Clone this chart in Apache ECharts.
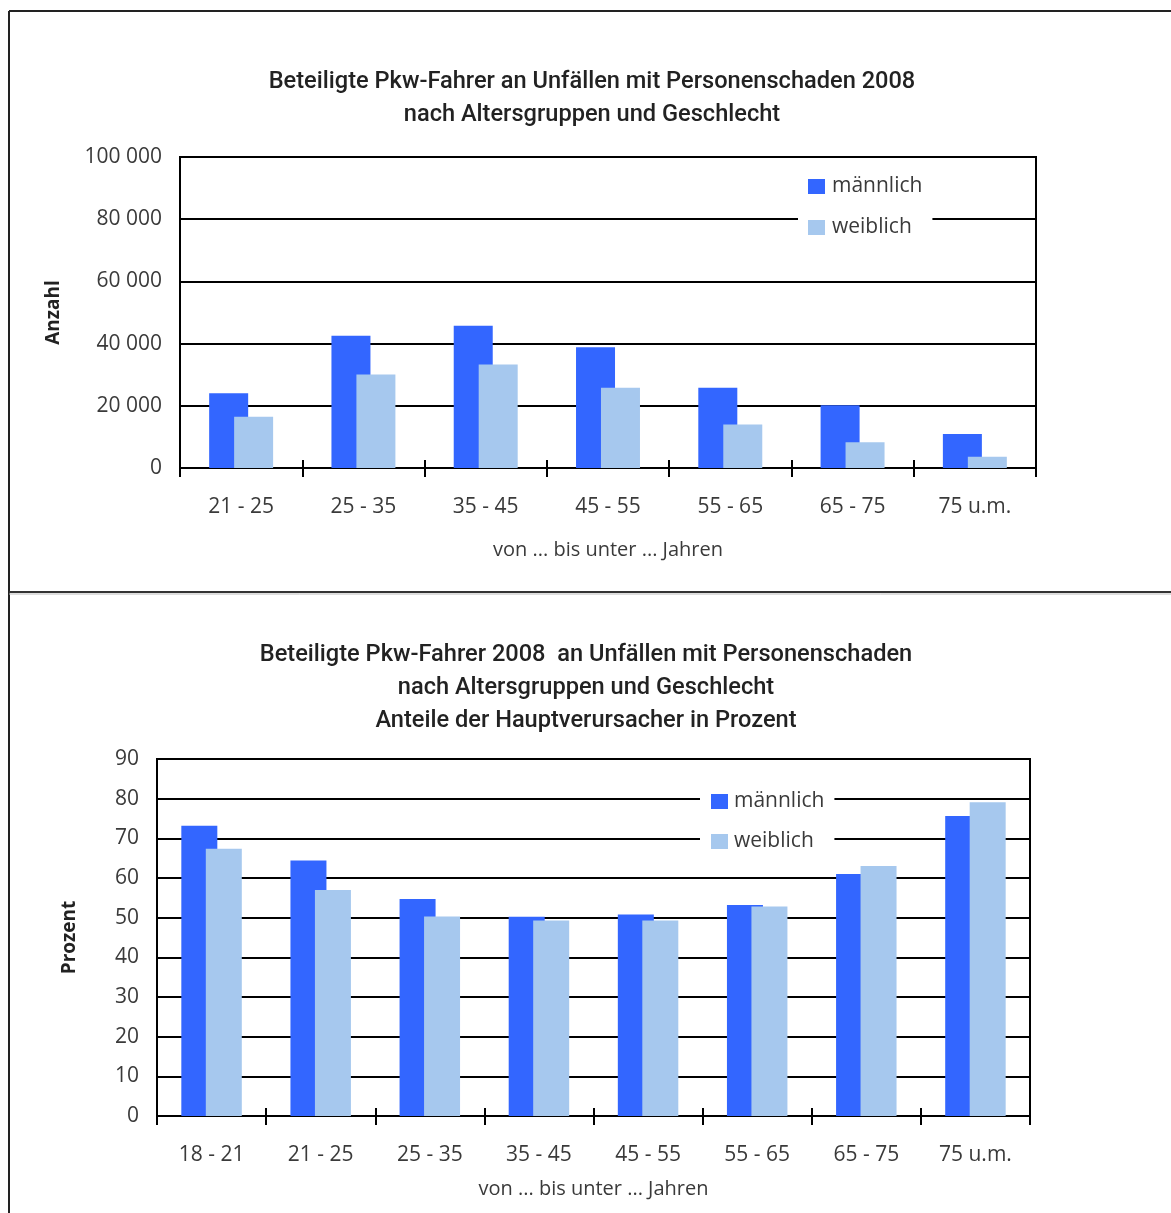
<!DOCTYPE html>
<html>
<head>
<meta charset="utf-8">
<script src="https://cdn.jsdelivr.net/npm/echarts@6/dist/echarts.min.js"></script>
<style>
html,body{margin:0;padding:0;background:#fff;}
#chart{width:1171px;height:1213px;}
</style>
</head>
<body>
<div id="chart"></div>
<script>
// ---- Data ----
const topCategories = ['21 - 25', '25 - 35', '35 - 45', '45 - 55', '55 - 65', '65 - 75', '75 u.m.'];
const topMale   = [24000, 42500, 45700, 38800, 25800, 20200, 10900];
const topFemale = [16500, 30100, 33300, 25800, 14000, 8300, 3600];

const bottomCategories = ['18 - 21', '21 - 25', '25 - 35', '35 - 45', '45 - 55', '55 - 65', '65 - 75', '75 u.m.'];
const bottomMale   = [73.2, 64.4, 54.7, 50.2, 50.8, 53.2, 61.0, 75.6];
const bottomFemale = [67.4, 57.0, 50.3, 49.3, 49.3, 52.8, 63.0, 79.1];

const seriesNames = ['männlich', 'weiblich'];
const topTitle = 'Beteiligte Pkw-Fahrer an Unfällen mit Personenschaden 2008\nnach Altersgruppen und Geschlecht';
const bottomTitle = 'Beteiligte Pkw-Fahrer 2008  an Unfällen mit Personenschaden\nnach Altersgruppen und Geschlecht\nAnteile der Hauptverursacher in Prozent';
const xName = 'von ... bis unter ... Jahren';
const topYName = 'Anzahl';
const bottomYName = 'Prozent';

// ---- Styles ----
const MALE = '#3366FF';
const FEMALE = '#A6C8EE';
const LABEL_FONT = "'Open Sans', 'Noto Sans', sans-serif";
const TITLE_FONT = "Roboto, 'Noto Sans', sans-serif";
const TXT = '#3a3a3a';

const chart = echarts.init(document.getElementById('chart'), null, {renderer: 'canvas'});

function thousands(v) {
  return String(v).replace(/\B(?=(\d{3})+(?!\d))/g, ' ');
}

function catAxis(gridIndex, data, main) {
  if (main) {
    return {
      type: 'category', gridIndex: gridIndex, data: data, position: 'bottom',
      boundaryGap: true,
      axisLine: {show: true, lineStyle: {color: '#000', width: 2}},
      axisTick: {show: true, inside: false, length: 9, lineStyle: {color: '#000', width: 2}},
      axisLabel: {color: TXT, fontFamily: LABEL_FONT, fontSize: 21, margin: 29},
      name: xName, nameLocation: 'middle', nameGap: gridIndex === 0 ? 72 : 63,
      nameTextStyle: {color: TXT, fontFamily: LABEL_FONT, fontSize: 20},
      splitLine: {show: false}
    };
  }
  return {
    type: 'category', gridIndex: gridIndex, data: data, position: 'bottom',
    boundaryGap: true,
    axisLine: {show: false},
    axisTick: {show: true, inside: true, length: 8, lineStyle: {color: '#000', width: 2}},
    axisLabel: {show: false},
    splitLine: {show: false}
  };
}

function valAxis(gridIndex, max, interval, name, nameGap, fmt) {
  return {
    type: 'value', gridIndex: gridIndex, min: 0, max: max, interval: interval,
    axisLine: {show: true, lineStyle: {color: '#000', width: 2}},
    axisTick: {show: false},
    axisLabel: {color: TXT, fontFamily: LABEL_FONT, fontSize: 21, margin: 18, formatter: fmt},
    splitLine: {show: true, lineStyle: {color: '#000', width: 2}},
    name: name, nameLocation: 'middle', nameGap: nameGap, nameRotate: 90,
    nameTextStyle: {color: '#222', fontFamily: LABEL_FONT, fontSize: 19, fontWeight: 'bold'}
  };
}

const option = {
  backgroundColor: '#fff',
  animation: false,
  title: [
    {
      text: topTitle, left: 587, top: 61, textAlign: 'center',
      textStyle: {fontFamily: TITLE_FONT, fontSize: 23.6, fontWeight: 500, color: '#222', lineHeight: 33}
    },
    {
      text: bottomTitle, left: 581, top: 634, textAlign: 'center',
      textStyle: {fontFamily: TITLE_FONT, fontSize: 23.6, fontWeight: 500, color: '#222', lineHeight: 33}
    }
  ],
  legend: [
    {
      data: seriesNames, orient: 'vertical', left: 798, top: 166,
      backgroundColor: '#fff', padding: [10, 10, 10, 10],
      icon: 'rect', itemWidth: 17, itemHeight: 15, itemGap: 20,
      textStyle: {color: TXT, fontFamily: LABEL_FONT, fontSize: 21, lineHeight: 20, padding: [0, 0, 0, 2]},
      selectedMode: false
    },
    {
      data: seriesNames, orient: 'vertical', left: 700, top: 781,
      backgroundColor: '#fff', padding: [10, 10, 10, 11],
      icon: 'rect', itemWidth: 17, itemHeight: 15, itemGap: 19,
      textStyle: {color: TXT, fontFamily: LABEL_FONT, fontSize: 21, lineHeight: 20, padding: [0, 0, 0, 1]},
      selectedMode: false
    }
  ],
  grid: [
    {left: 180, top: 157, width: 856, height: 311, show: true, borderColor: '#000', borderWidth: 2, backgroundColor: 'transparent'},
    {left: 157, top: 759, width: 873, height: 357, show: true, borderColor: '#000', borderWidth: 2, backgroundColor: 'transparent'}
  ],
  xAxis: [
    catAxis(0, topCategories, true),
    catAxis(0, topCategories, false),
    catAxis(1, bottomCategories, true),
    catAxis(1, bottomCategories, false)
  ],
  yAxis: [
    valAxis(0, 100000, 20000, topYName, 117, thousands),
    valAxis(1, 90, 10, bottomYName, 78, null)
  ],
  series: [
    {name: seriesNames[0], type: 'bar', xAxisIndex: 0, yAxisIndex: 0, data: topMale,
     itemStyle: {color: MALE}, barWidth: 39, barGap: '-36%'},
    {name: seriesNames[1], type: 'bar', xAxisIndex: 0, yAxisIndex: 0, data: topFemale,
     itemStyle: {color: FEMALE}, barWidth: 39, barGap: '-36%'},
    {name: seriesNames[0], type: 'bar', xAxisIndex: 2, yAxisIndex: 1, data: bottomMale,
     itemStyle: {color: MALE}, barWidth: 36, barGap: '-32%'},
    {name: seriesNames[1], type: 'bar', xAxisIndex: 2, yAxisIndex: 1, data: bottomFemale,
     itemStyle: {color: FEMALE}, barWidth: 36, barGap: '-32%'}
  ],
  graphic: [
    {type: 'line', shape: {x1: 9, y1: 11, x2: 1171, y2: 11}, style: {stroke: '#222', lineWidth: 2}, silent: true},
    {type: 'line', shape: {x1: 9, y1: 11, x2: 9, y2: 1213}, style: {stroke: '#222', lineWidth: 2}, silent: true},
    {type: 'line', shape: {x1: 9, y1: 592, x2: 1171, y2: 592}, style: {stroke: '#333', lineWidth: 2}, silent: true},
    {type: 'line', shape: {x1: 9, y1: 594, x2: 1171, y2: 594}, style: {stroke: '#bbb', lineWidth: 1}, silent: true}
  ]
};

chart.setOption(option);
</script>
</body>
</html>
